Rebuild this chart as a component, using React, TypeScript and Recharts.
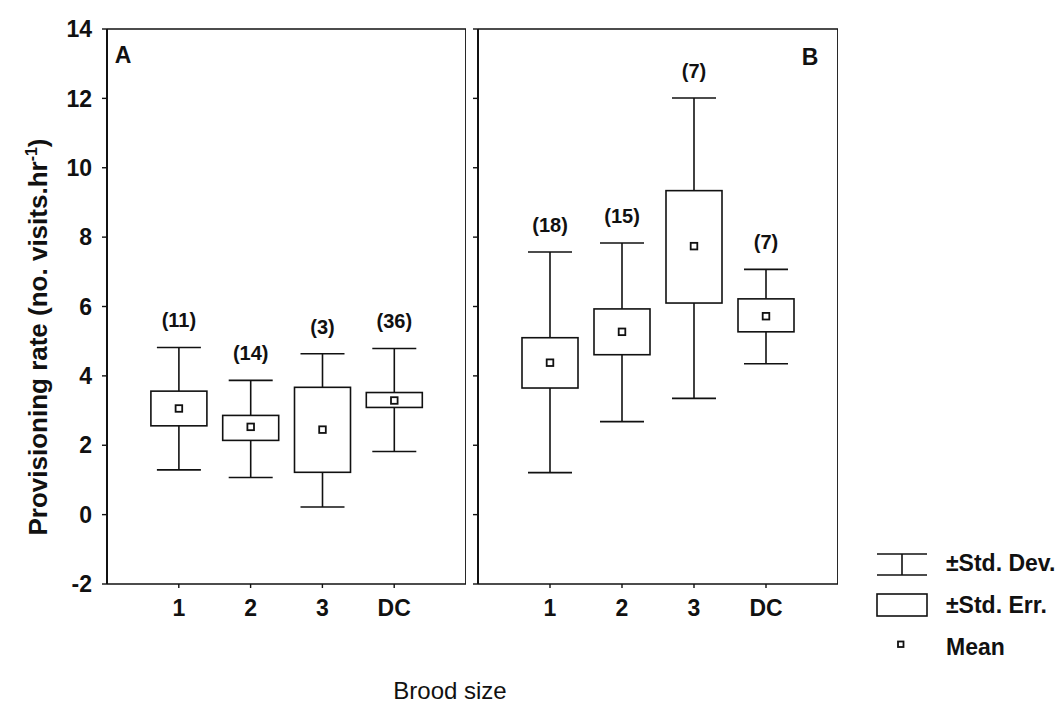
import { ComposedChart, Bar, XAxis, YAxis, ReferenceLine } from "recharts";

const FONT = "'Liberation Sans', Arial, Helvetica, sans-serif";
const INK = "#111";

const broodSizes = ["1", "2", "3", "DC"];
const yTicks = [-2, 0, 2, 4, 6, 8, 10, 12, 14];

// panel A
const nA = [11, 14, 3, 36];
const meanA = [3.06, 2.53, 2.45, 3.29];
const seLowA = [2.56, 2.14, 1.22, 3.09];
const seHighA = [3.56, 2.86, 3.67, 3.52];
const sdLowA = [1.29, 1.07, 0.22, 1.82];
const sdHighA = [4.82, 3.87, 4.64, 4.79];

// panel B
const nB = [18, 15, 7, 7];
const meanB = [4.38, 5.27, 7.74, 5.72];
const seLowB = [3.65, 4.61, 6.1, 5.27];
const seHighB = [5.1, 5.93, 9.34, 6.22];
const sdLowB = [1.21, 2.68, 3.35, 4.35];
const sdHighB = [7.57, 7.83, 12.01, 7.07];

function buildRows(
  n: number[],
  mean: number[],
  seLow: number[],
  seHigh: number[],
  sdLow: number[],
  sdHigh: number[]
) {
  return broodSizes.map((label, i) => ({
    pos: i + 1,
    label,
    n: n[i],
    mean: mean[i],
    seLow: seLow[i],
    seHigh: seHigh[i],
    sdLow: sdLow[i],
    sdHigh: sdHigh[i],
    sd: [sdLow[i], sdHigh[i]],
  }));
}

const rowsA = buildRows(nA, meanA, seLowA, seHighA, sdLowA, sdHighA);
const rowsB = buildRows(nB, meanB, seLowB, seHighB, sdLowB, sdHighB);

// draws whiskers (sd), the se box and the mean marker from the bar's own geometry
function BoxShape(props: any) {
  const { x, y, width, height, payload } = props;
  if (!payload || height == null) return null;
  const top = Math.min(y, y + height);
  const h = Math.abs(height);
  const { sdLow, sdHigh, seLow, seHigh, mean, n } = payload;
  const py = (v: number) => top + ((sdHigh - v) / (sdHigh - sdLow)) * h;
  const cx = x + width / 2;
  const cap = 22;
  const m = 3.3;
  return (
    <g stroke={INK} strokeWidth={1.6} fill="none">
      <line x1={cx} x2={cx} y1={py(sdHigh)} y2={py(seHigh)} />
      <line x1={cx} x2={cx} y1={py(seLow)} y2={py(sdLow)} />
      <line x1={cx - cap} x2={cx + cap} y1={py(sdHigh)} y2={py(sdHigh)} />
      <line x1={cx - cap} x2={cx + cap} y1={py(sdLow)} y2={py(sdLow)} />
      <rect
        x={x}
        y={py(seHigh)}
        width={width}
        height={py(seLow) - py(seHigh)}
        fill="#fff"
      />
      <rect x={cx - m} y={py(mean) - m} width={2 * m} height={2 * m} fill="#fff" strokeWidth={1.8} />
      <text
        x={cx}
        y={py(sdHigh) - 20}
        textAnchor="middle"
        stroke="none"
        fill={INK}
        fontFamily={FONT}
        fontWeight="bold"
        fontSize={20}
      >
        ({n})
      </text>
    </g>
  );
}

const tickFont = { fontSize: 23, fontWeight: "bold", fill: INK, fontFamily: FONT };

function Panel({
  rows,
  width,
  left,
  yWidth,
  showYLabels,
}: {
  rows: any[];
  width: number;
  left: number;
  yWidth: number;
  showYLabels: boolean;
}) {
  return (
    <div style={{ position: "absolute", left, top: 0 }}>
      <ComposedChart
        width={width}
        height={640}
        data={rows}
        margin={{ top: 29, right: 0, bottom: 16, left: 0 }}
        style={{ overflow: "visible" }}
      >
        <XAxis
          dataKey="pos"
          type="number"
          domain={[0, 5]}
          ticks={[1, 2, 3, 4]}
          tickFormatter={(v: number) => broodSizes[v - 1] ?? ""}
          height={40}
          tick={tickFont}
          tickSize={4}
          tickMargin={12}
          axisLine={{ stroke: INK, strokeWidth: 1.6 }}
          tickLine={{ stroke: INK, strokeWidth: 1.4 }}
          allowDataOverflow
        />
        <YAxis
          type="number"
          domain={[-2, 14]}
          ticks={yTicks}
          width={yWidth}
          tick={showYLabels ? tickFont : { fontSize: 0 }}
          tickFormatter={(v: number) => (showYLabels ? String(v) : "")}
          tickSize={5}
          tickMargin={10}
          axisLine={{ stroke: INK, strokeWidth: 2 }}
          tickLine={{ stroke: INK, strokeWidth: 1.4 }}
          allowDataOverflow
        />
        <ReferenceLine y={14} stroke={INK} strokeWidth={1.6} ifOverflow="visible" />
        <ReferenceLine x={5} stroke={INK} strokeWidth={1.8} ifOverflow="visible" />
        <Bar dataKey="sd" barSize={56} shape={BoxShape} isAnimationActive={false} />
      </ComposedChart>
    </div>
  );
}

export default function App() {
  return (
    <div
      style={{
        position: "absolute",
        left: 0,
        top: 0,
        width: 1063,
        height: 705,
        background: "#fff",
        overflow: "hidden",
      }}
    >
      {/* plot A spans x 107-466, plot B spans x 478-838 */}
      <Panel rows={rowsA} width={419} left={47} yWidth={60} showYLabels />
      <Panel rows={rowsB} width={370} left={468} yWidth={10} showYLabels={false} />

      <svg
        width={1063}
        height={705}
        style={{ position: "absolute", left: 0, top: 0, pointerEvents: "none" }}
        fontFamily={FONT}
      >
        <text x={123} y={63} textAnchor="middle" fontSize={23} fontWeight="bold" fill={INK}>
          A
        </text>
        <text x={810} y={65} textAnchor="middle" fontSize={23} fontWeight="bold" fill={INK}>
          B
        </text>

        <text
          x={47}
          y={337}
          transform="rotate(-90 47 337)"
          textAnchor="middle"
          fontSize={26}
          fontWeight="bold"
          fill={INK}
        >
          Provisioning rate (no. visits.hr
          <tspan dy={-10} fontSize={16}>
            -1
          </tspan>
          <tspan dy={10}>)</tspan>
        </text>

        <text x={450} y={699} textAnchor="middle" fontSize={24} fill={INK}>
          Brood size
        </text>

        <g stroke={INK} strokeWidth={1.6} fill="none">
          <line x1={877} x2={927} y1={554} y2={554} />
          <line x1={877} x2={927} y1={575} y2={575} />
          <line x1={902} x2={902} y1={554} y2={575} />
          <rect x={877} y={594} width={50} height={22} />
          <rect x={898} y={641.5} width={5.5} height={5.5} strokeWidth={1.8} />
        </g>
        <g fontSize={23} fontWeight="bold" fill={INK}>
          <text x={946} y={571}>±Std. Dev.</text>
          <text x={946} y={613}>±Std. Err.</text>
          <text x={946} y={655}>Mean</text>
        </g>
      </svg>
    </div>
  );
}
